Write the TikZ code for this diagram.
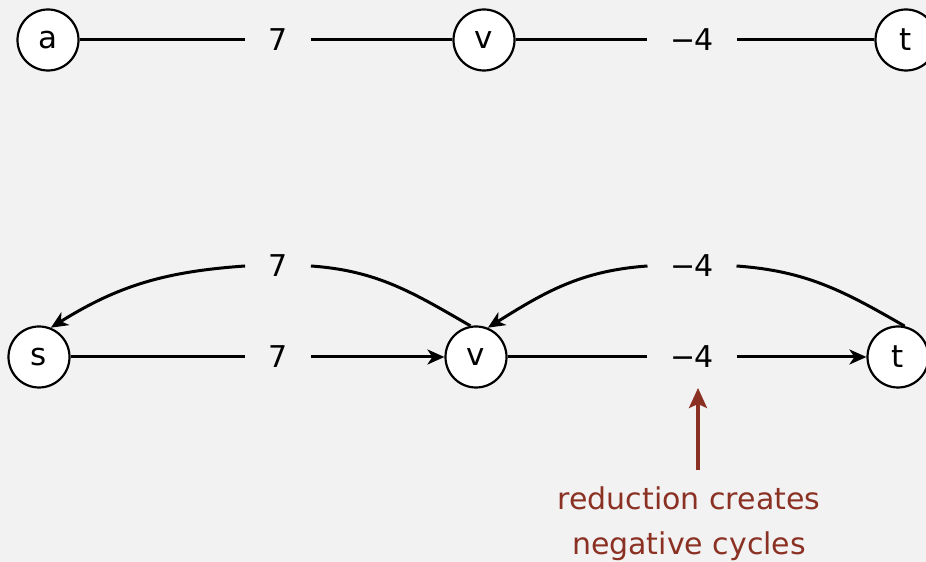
\documentclass[tikz,border=0pt]{standalone}
\usepackage{fontspec}
\setmainfont{DejaVu Sans}
\usetikzlibrary{arrows.meta}
\definecolor{pagebg}{HTML}{F2F2F2}
\definecolor{notered}{HTML}{8B3124}
\newcommand{\negw}[1]{−\kern-1pt#1}
\tikzset{
  vtx/.style={circle, draw, line width=1.1pt, fill=white, minimum size=30.5pt,
    inner sep=0pt, font=\fontsize{15.5}{18}\selectfont},
  wt/.style={inner xsep=11.5pt, inner ysep=2pt, font=\fontsize{15}{18}\selectfont},
  edge/.style={line width=1.5pt},
  arc/.style={edge, -{Stealth[length=8.5pt,width=7.5pt,inset=2.5pt]}},
}

\begin{document}
\begin{tikzpicture}[x=0.5pt, y=0.5pt,
  note/.style={text=notered, align=center, font=\fontsize{15}{22.5}\selectfont},
  notearrow/.style={notered, line width=1.6pt, -{Stealth[length=10pt,width=9pt,inset=2pt]}}]

\fill[pagebg] (0,0) rectangle (926,562);
\useasboundingbox (0,0) rectangle (926,562);

% ---- undirected path a - v - t ----
\node[vtx] (a)  at (48,522)  {a};
\node[vtx] (v1) at (484,522) {v};
\node[vtx] (t1) at (906,522) {t};
\node[wt] (av) at (278,522) {7};
\node[wt] (vt) at (692,522) {\negw{4}};
\draw[edge] (a) -- (av);  \draw[edge] (av) -- (v1);
\draw[edge] (v1) -- (vt); \draw[edge] (vt) -- (t1);

% ---- directed version: one arc each way ----
\node[vtx] (s)  at (39,205)  {s};
\node[vtx] (v2) at (476,205) {v};
\node[vtx] (t2) at (898,205) {t};
\node[wt] (sv) at (278,205) {7};
\node[wt] (vt2) at (692,205) {\negw{4}};
\node[wt] (vs) at (278,296) {7};
\node[wt] (tv) at (692,296) {\negw{4}};
% forward arcs
\draw[edge] (s) -- (sv);   \draw[arc] (sv) -- (v2);
\draw[edge] (v2) -- (vt2); \draw[arc] (vt2) -- (t2);
% backward arcs
\draw[edge] (v2.100) to[out=150, in=-4] (vs.east);
\draw[arc] (vs.west) to[out=184, in=32] (s.68);
\draw[edge] (t2.78) to[out=150, in=-4] (tv.east);
\draw[arc] (tv.west) to[out=184, in=32] (v2.68);

% ---- note ----
\node[note] (cap) at (689,38) {reduction creates\\negative cycles};
\coordinate (tail) at (698,92);
\coordinate (tip) at (698,174);
\draw[notearrow] (tail) -- (tip);

\end{tikzpicture}
\end{document}
